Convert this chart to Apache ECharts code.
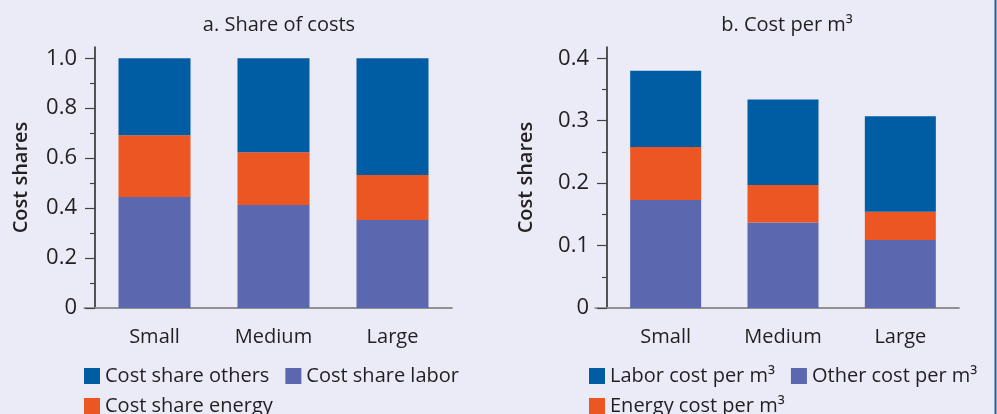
<!DOCTYPE html>
<html>
<head>
<meta charset="utf-8">
<script src="https://cdn.jsdelivr.net/npm/echarts@6/dist/echarts.min.js"></script>
<style>
  html, body { margin: 0; padding: 0; background: #eaebf7; }
  #chart { width: 997px; height: 414px; }
</style>
</head>
<body>
<div id="chart"></div>
<script>
// Plant size classes
const categories = ['Small', 'Medium', 'Large'];

// Panel a: share of total costs (stacked to 1.0)
const shareLabor  = [0.444, 0.412, 0.352];
const shareEnergy = [0.248, 0.212, 0.181];
const shareOthers = [0.308, 0.376, 0.467];

// Panel b: cost per cubic metre
const perM3Other  = [0.173, 0.137, 0.109];
const perM3Energy = [0.085, 0.060, 0.045];
const perM3Labor  = [0.122, 0.137, 0.153];

// Tick positions
const ticksA = [0, 0.2, 0.4, 0.6, 0.8, 1.0];
const minorA = [0.1, 0.3, 0.5, 0.7, 0.9];
const ticksB = [0, 0.1, 0.2, 0.3, 0.4];
const minorB = [0.05, 0.15, 0.25, 0.35];

const BLUE = '#005da4';
const PURPLE = '#5b68b0';
const ORANGE = '#ec5622';
const INK = '#231f20';
const FONT = '"Open Sans", "Noto Sans", sans-serif';
const FS = 20;

const fmt = v => (v === 0 ? '0' : v.toFixed(1));

const chart = echarts.init(document.getElementById('chart'), null, { renderer: 'canvas' });

function catAxis(gridIndex) {
  return {
    type: 'category', gridIndex, data: categories,
    axisLine: { lineStyle: { color: '#8c8c8c', width: 1.5 } },
    axisTick: { alignWithLabel: true, length: 10, lineStyle: { color: INK, width: 1.5 } },
    axisLabel: { color: INK, fontSize: FS, fontFamily: FONT, margin: 19 }
  };
}

function valAxis(gridIndex, max, ticks, nameGap) {
  return {
    type: 'value', gridIndex, min: 0, max, position: 'left',
    name: 'Cost shares', nameLocation: 'middle', nameRotate: 90, nameGap,
    nameTextStyle: { color: INK, fontSize: FS, fontWeight: 600, fontFamily: FONT },
    axisLine: { show: true, lineStyle: { color: INK, width: 1.5 } },
    axisTick: { show: true, length: 10, customValues: ticks, lineStyle: { color: '#444', width: 1.2 } },
    axisLabel: { customValues: ticks, formatter: fmt, color: INK, fontSize: 22, fontFamily: FONT, margin: 18 },
    splitLine: { show: false }
  };
}

function minorAxis(gridIndex, max, ticks) {
  return {
    type: 'value', gridIndex, min: 0, max, position: 'left',
    axisLine: { show: false },
    axisTick: { show: true, length: 5, customValues: ticks, lineStyle: { color: '#444', width: 1.2 } },
    axisLabel: { show: false },
    splitLine: { show: false }
  };
}

// Axis-line stubs that run a little past the y axis on the left
function stubX(gridIndex) {
  return {
    type: 'value', gridIndex, min: 0, max: 1,
    axisLine: { show: true, onZero: false, lineStyle: { color: '#8c8c8c', width: 1.5 } },
    axisTick: { show: false }, axisLabel: { show: false }, splitLine: { show: false }
  };
}
function stubY(gridIndex) {
  return { type: 'value', gridIndex, min: 0, max: 1, show: false };
}

function bar(name, data, color, xi, yi, width) {
  return {
    name, type: 'bar', stack: 'p' + xi, data,
    xAxisIndex: xi, yAxisIndex: yi,
    barWidth: width, itemStyle: { color },
    emphasis: { disabled: true }
  };
}

function legendRow(names, left, top) {
  return {
    data: names, left, top, padding: 0,
    itemWidth: 16, itemHeight: 16, itemGap: 16,
    icon: 'rect', selectedMode: false,
    textStyle: { color: INK, fontSize: FS, fontFamily: FONT, lineHeight: 16 }
  };
}

const titleStyle = { color: INK, fontSize: FS, fontWeight: 'normal', fontFamily: FONT };

const option = {
  backgroundColor: '#eaebf7',
  animation: false,
  title: [
    { text: 'a. Share of costs', left: 274, top: 10, textAlign: 'center', textStyle: titleStyle },
    { text: 'b. Cost per m³', left: 782, top: 10, textAlign: 'center', textStyle: titleStyle }
  ],
  grid: [
    { left: 95, top: 47, width: 357, height: 261 },
    { left: 607, top: 47, width: 352, height: 261 },
    { left: 84, top: 47, width: 368, height: 261 },
    { left: 595, top: 47, width: 364, height: 261 }
  ],
  xAxis: [catAxis(0), catAxis(1), stubX(2), stubX(3)],
  yAxis: [
    valAxis(0, 1.045, ticksA, 64),
    valAxis(1, 0.418, ticksB, 71),
    minorAxis(0, 1.045, minorA),
    minorAxis(1, 0.418, minorB),
    stubY(2), stubY(3)
  ],
  legend: [
    legendRow(['Cost share others', 'Cost share labor'], 84, 366),
    legendRow(['Cost share energy'], 84, 396),
    legendRow(['Labor cost per m³', 'Other cost per m³'], 589, 366),
    legendRow(['Energy cost per m³'], 589, 396)
  ],
  series: [
    bar('Cost share labor', shareLabor, PURPLE, 0, 0, 72),
    bar('Cost share energy', shareEnergy, ORANGE, 0, 0, 72),
    bar('Cost share others', shareOthers, BLUE, 0, 0, 72),
    bar('Other cost per m³', perM3Other, PURPLE, 1, 1, 71),
    bar('Energy cost per m³', perM3Energy, ORANGE, 1, 1, 71),
    bar('Labor cost per m³', perM3Labor, BLUE, 1, 1, 71)
  ],
  graphic: [
    { type: 'line', shape: { x1: 995.5, y1: 0, x2: 995.5, y2: 414 },
      style: { stroke: '#1f5f9f', lineWidth: 2 }, silent: true }
  ]
};

chart.setOption(option);
</script>
</body>
</html>
